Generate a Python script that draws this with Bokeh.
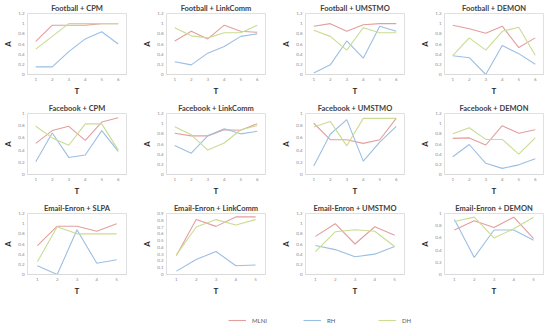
from bokeh.plotting import figure
from bokeh.layouts import column, row
from bokeh.models import FixedTicker, Legend, LegendItem, Range1d
from bokeh.embed import file_html
from bokeh.resources import INLINE

# ---------------- data ----------------
series_names = ["MLNI", "RH", "DH"]
series_colors = ["#e39e9e", "#9bbfe2", "#c9dc92"]

titles = [
    "Football + CPM", "Football + LinkComm", "Football + UMSTMO", "Football + DEMON",
    "Facebook + CPM", "Facebook + LinkComm", "Facebook + UMSTMO", "Facebook + DEMON",
    "Email-Enron + SLPA", "Email-Enron + LinkComm", "Email-Enron + UMSTMO", "Email-Enron + DEMON",
]

t6 = [1, 2, 3, 4, 5, 6]
t5 = [1, 2, 3, 4, 5]

y_ticks_12 = [0, 0.2, 0.4, 0.6, 0.8, 1.0, 1.2]
y_labels_12 = ["0", "0.2", "0.4", "0.6", "0.8", "1", "1.2"]
y_ticks_10 = [0, 0.2, 0.4, 0.6, 0.8, 1.0]
y_labels_10 = ["0", "0.2", "0.4", "0.6", "0.8", "1"]
y_ticks_09 = [0, 0.1, 0.2, 0.3, 0.4, 0.5, 0.6, 0.7, 0.8, 0.9]
y_labels_09 = ["0", "0.1", "0.2", "0.3", "0.4", "0.5", "0.6", "0.7", "0.8", "0.9"]

football_cpm_mlni = [0.65, 0.97, 0.97, 0.97, 1.0, 1.0]
football_cpm_rh = [0.15, 0.15, 0.45, 0.70, 0.84, 0.60]
football_cpm_dh = [0.50, 0.75, 1.0, 1.0, 1.0, 1.0]

football_linkcomm_mlni = [0.66, 0.85, 0.70, 0.97, 0.85, 0.83]
football_linkcomm_rh = [0.25, 0.19, 0.42, 0.55, 0.75, 0.80]
football_linkcomm_dh = [0.92, 0.76, 0.72, 0.82, 0.82, 0.97]

football_umstmo_mlni = [0.95, 1.0, 0.85, 0.98, 1.0, 1.0]
football_umstmo_rh = [0.03, 0.19, 0.66, 0.32, 0.95, 0.85]
football_umstmo_dh = [0.87, 0.75, 0.48, 0.92, 0.82, 0.82]

football_demon_mlni = [0.97, 0.90, 0.81, 0.95, 0.53, 0.72]
football_demon_rh = [0.37, 0.33, 0.0, 0.57, 0.41, 0.20]
football_demon_dh = [0.37, 0.72, 0.48, 0.85, 0.93, 0.38]

facebook_cpm_mlni = [0.51, 0.72, 0.79, 0.56, 0.86, 0.93]
facebook_cpm_rh = [0.21, 0.68, 0.28, 0.32, 0.72, 0.38]
facebook_cpm_dh = [0.79, 0.60, 0.48, 0.83, 0.83, 0.40]

facebook_linkcomm_mlni = [0.81, 0.76, 0.76, 0.88, 0.87, 1.0]
facebook_linkcomm_rh = [0.57, 0.42, 0.76, 0.90, 0.80, 0.85]
facebook_linkcomm_dh = [0.94, 0.78, 0.48, 0.62, 0.88, 0.96]

facebook_umstmo_mlni = [0.84, 0.57, 0.57, 0.51, 0.57, 0.92]
facebook_umstmo_rh = [0.14, 0.66, 0.90, 0.22, 0.53, 0.79]
facebook_umstmo_dh = [0.78, 0.87, 0.47, 0.92, 0.92, 0.92]

facebook_demon_mlni = [0.71, 0.72, 0.58, 0.96, 0.81, 0.88]
facebook_demon_rh = [0.35, 0.59, 0.22, 0.12, 0.19, 0.31]
facebook_demon_dh = [0.80, 0.92, 0.69, 0.69, 0.40, 0.72]

enron_slpa_mlni = [0.57, 0.95, 0.95, 0.85, 1.0]
enron_slpa_rh = [0.17, 0.0, 0.88, 0.22, 0.29]
enron_slpa_dh = [0.25, 0.94, 0.80, 0.80, 0.80]

enron_linkcomm_mlni = [0.28, 0.81, 0.71, 0.85, 0.85]
enron_linkcomm_rh = [0.05, 0.22, 0.34, 0.13, 0.14]
enron_linkcomm_dh = [0.29, 0.70, 0.81, 0.73, 0.81]

enron_umstmo_mlni = [0.75, 1.0, 0.60, 0.94, 0.77]
enron_umstmo_rh = [0.57, 0.49, 0.35, 0.40, 0.55]
enron_umstmo_dh = [0.45, 0.84, 0.88, 0.85, 0.55]

enron_demon_mlni = [0.73, 0.88, 0.77, 0.94, 0.59]
enron_demon_rh = [0.90, 0.28, 0.73, 0.73, 0.56]
enron_demon_dh = [0.87, 0.94, 0.60, 0.75, 0.94]

panels = [
    (t6, y_ticks_12, y_labels_12, [football_cpm_mlni, football_cpm_rh, football_cpm_dh]),
    (t6, y_ticks_12, y_labels_12, [football_linkcomm_mlni, football_linkcomm_rh, football_linkcomm_dh]),
    (t6, y_ticks_12, y_labels_12, [football_umstmo_mlni, football_umstmo_rh, football_umstmo_dh]),
    (t6, y_ticks_12, y_labels_12, [football_demon_mlni, football_demon_rh, football_demon_dh]),
    (t6, y_ticks_10, y_labels_10, [facebook_cpm_mlni, facebook_cpm_rh, facebook_cpm_dh]),
    (t6, y_ticks_12, y_labels_12, [facebook_linkcomm_mlni, facebook_linkcomm_rh, facebook_linkcomm_dh]),
    (t6, y_ticks_10, y_labels_10, [facebook_umstmo_mlni, facebook_umstmo_rh, facebook_umstmo_dh]),
    (t6, y_ticks_12, y_labels_12, [facebook_demon_mlni, facebook_demon_rh, facebook_demon_dh]),
    (t5, y_ticks_12, y_labels_12, [enron_slpa_mlni, enron_slpa_rh, enron_slpa_dh]),
    (t5, y_ticks_09, y_labels_09, [enron_linkcomm_mlni, enron_linkcomm_rh, enron_linkcomm_dh]),
    (t5, y_ticks_12, y_labels_12, [enron_umstmo_mlni, enron_umstmo_rh, enron_umstmo_dh]),
    (t5, y_ticks_10, y_labels_10, [enron_demon_mlni, enron_demon_rh, enron_demon_dh]),
]

FONT = "Lato"


def make_panel(title, xs, yt, yl, vals):
    p = figure(frame_width=99, frame_height=61, title=title,
               x_range=Range1d(0.5, len(xs) + 0.5),
               y_range=Range1d(0, yt[-1]),
               output_backend="svg", toolbar_location=None,
               min_border_left=21, min_border_right=13,
               min_border_top=11, min_border_bottom=26)
    p.title.align = "center"
    p.title.text_font = FONT
    p.title.text_font_size = "7.5px"
    p.title.text_font_style = "bold"
    p.title.text_color = "#404040"
    p.title.offset = 0
    p.title.standoff = 2
    p.xgrid.visible = False
    p.ygrid.visible = False
    p.outline_line_color = "#e0e0e0"
    p.background_fill_color = "white"
    p.border_fill_color = "white"

    for v, c in zip(vals, series_colors):
        p.line(xs, v, line_color=c, line_width=1.1)

    for ax in (p.xaxis[0], p.yaxis[0]):
        ax.major_label_text_font_size = "4.5px"
        ax.major_label_text_color = "#8c8c8c"
        ax.major_label_text_font = FONT
        ax.major_tick_line_color = None
        ax.minor_tick_line_color = None
        ax.major_tick_out = 0
        ax.major_tick_in = 0
        ax.minor_tick_out = 0
        ax.minor_tick_in = 0
        ax.axis_label_text_font = FONT
        ax.axis_label_text_font_size = "8px"
        ax.axis_label_text_font_style = "bold"
        ax.axis_label_text_color = "#262626"

    xa = p.xaxis[0]
    xa.ticker = FixedTicker(ticks=xs)
    xa.axis_line_color = "#d9d9d9"
    xa.major_label_standoff = 3
    xa.axis_label = "T"
    xa.axis_label_standoff = 2

    ya = p.yaxis[0]
    ya.ticker = FixedTicker(ticks=yt)
    ya.major_label_overrides = {t: s for t, s in zip(yt, yl)}
    ya.axis_line_color = None
    ya.major_label_standoff = 3
    ya.axis_label = "A"
    ya.axis_label_standoff = 2
    return p


figs = [make_panel(t, *pan) for t, pan in zip(titles, panels)]
rows = [row(*figs[i * 4:(i + 1) * 4]) for i in range(3)]

# legend strip (its line renderers sit outside the visible range)
lf = figure(width=532, height=25, x_range=Range1d(0, 1), y_range=Range1d(0, 1),
            output_backend="svg", toolbar_location=None,
            min_border=0, outline_line_color=None)
lf.axis.visible = False
lf.grid.visible = False
items = []
for name, c in zip(series_names, series_colors):
    r = lf.line(x=[-5, -4], y=[-5, -5], line_color=c, line_width=1.1)
    items.append(LegendItem(label=name, renderers=[r]))
leg = Legend(items=items, orientation="horizontal", location=(228, 1),
             glyph_width=18, glyph_height=8, label_text_font_size="6px",
             label_text_font=FONT, label_text_color="#595959",
             label_width=40, label_standoff=6, spacing=11, padding=0, margin=0,
             border_line_color=None, background_fill_alpha=0)
lf.add_layout(leg)

layout = column(*rows, lf)
open("out.html", "w").write(file_html(layout, INLINE))
